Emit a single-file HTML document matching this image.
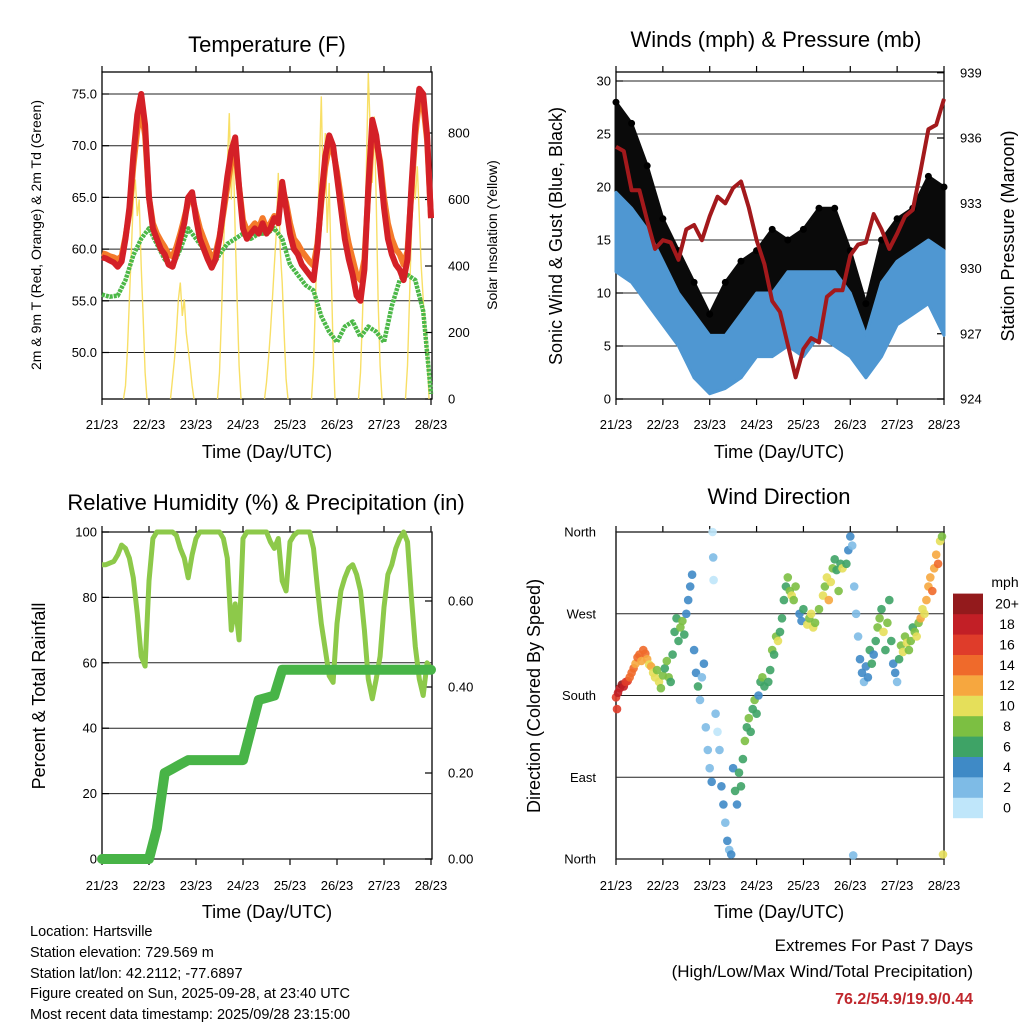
<!DOCTYPE html>
<html><head><meta charset="utf-8"><style>
html,body{margin:0;padding:0;background:#fff;}
svg{display:block;font-family:"Liberation Sans",sans-serif;}
</style></head><body>
<svg id="root" width="1024" height="1024" viewBox="0 0 1024 1024" xmlns="http://www.w3.org/2000/svg">
<text x="267" y="52" font-size="22" text-anchor="middle">Temperature (F)</text>
<text x="776" y="47" font-size="22" text-anchor="middle">Winds (mph) &amp; Pressure (mb)</text>
<text x="266" y="510" font-size="22" text-anchor="middle">Relative Humidity (%) &amp; Precipitation (in)</text>
<text x="779" y="504" font-size="22" text-anchor="middle">Wind Direction</text>
<text transform="translate(41,235) rotate(-90)" font-size="14" text-anchor="middle">2m &amp; 9m T (Red, Orange) &amp; 2m Td (Green)</text>
<text transform="translate(497,235) rotate(-90)" font-size="14" text-anchor="middle">Solar Insolation (Yellow)</text>
<text transform="translate(562,236) rotate(-90)" font-size="18" text-anchor="middle">Sonic Wind &amp; Gust (Blue, Black)</text>
<text transform="translate(1014,236) rotate(-90)" font-size="18" text-anchor="middle">Station Pressure (Maroon)</text>
<text transform="translate(45,696) rotate(-90)" font-size="18" text-anchor="middle">Percent &amp; Total Rainfall</text>
<text transform="translate(540,696) rotate(-90)" font-size="18" text-anchor="middle">Direction (Colored By Speed)</text>
<text x="267" y="458" font-size="18" text-anchor="middle">Time (Day/UTC)</text>
<text x="779" y="458" font-size="18" text-anchor="middle">Time (Day/UTC)</text>
<text x="267" y="918" font-size="18" text-anchor="middle">Time (Day/UTC)</text>
<text x="779" y="918" font-size="18" text-anchor="middle">Time (Day/UTC)</text>
<g font-size="14.5">
<text x="30" y="936">Location: Hartsville</text>
<text x="30" y="957">Station elevation: 729.569 m</text>
<text x="30" y="978">Station lat/lon: 42.2112; -77.6897</text>
<text x="30" y="998">Figure created on Sun, 2025-09-28, at 23:40 UTC</text>
<text x="30" y="1019">Most recent data timestamp: 2025/09/28 23:15:00</text>
</g>
<text x="973" y="951" font-size="17" text-anchor="end">Extremes For Past 7 Days</text>
<text x="973" y="977" font-size="17" text-anchor="end">(High/Low/Max Wind/Total Precipitation)</text>
<text x="973" y="1004" font-size="16" font-weight="bold" fill="#c0272d" text-anchor="end">76.2/54.9/19.9/0.44</text>
</svg>
<script>
// ---------- data ----------
const dayLabels = ["21/23","22/23","23/23","24/23","25/23","26/23","27/23","28/23"];
const tempTicks = [50,55,60,65,70,75];
const solarTicks = [0,200,400,600,800];
const windTicks = [0,5,10,15,20,25,30];
const pressTicks = [924,927,930,933,936,939];
const rhTicks = [0,20,40,60,80,100];
const rainTicks = [0,0.2,0.4,0.6];
const dirTicks = [0,90,180,270,360];
const dirNames = ["North","East","South","West","North"];
const speedBinLabels = ["0","2","4","6","8","10","12","14","16","18","20+"];
// temperature 2m (red), every 2 h
const temp2m = [59.2,59.1,58.9,58.7,58.3,58.8,61,64,69,73,75,72,65,62,61,60,59.5,58.5,58.3,59.5,61,62.5,65,65.5,63,61,60,59,58.2,59,61,64,67,69.5,70.8,66,62,61,61.5,62,61.5,62.5,61.5,62,63,62.5,66.5,64,61.5,60,59.5,58.5,58,57.5,57,60,65,69,71,70,67,64,61,59,57.5,55.5,55,58,66,72.5,71,68,64,61,59.5,58.5,58,57,59,66,72,75.5,75,71,63];
// temperature 9m (orange), every 2 h
const temp9m = [59.6,59.5,59.3,59.2,59,59.3,61.2,63.5,68,71.5,73.5,71,65,62.5,61.5,60.8,60.2,59.5,59.3,60.2,61.5,63,64.5,65,63.5,62,61,60,59.2,59.6,61.2,63.5,66,68.5,69.5,66,62.8,61.8,62,62.5,62,63,62,62.5,63.2,63,66,64.5,62.5,61,60.5,59.8,59.3,58.8,58.4,60.5,64.5,68,70,69.5,67.5,65,62.5,60.5,59,57.5,57,59,65.5,71,70.5,68.5,65,62.5,61,60,59.5,58.5,59.8,65.5,71,74.5,74,70.5,63];
// dew point 2m (green), every 4 h
const dewPoint = [55.6,55.4,55.5,57,59.4,61,62,60.5,59,58.3,60,62,61,60,58.2,59.5,60.5,61,61.5,61,61.5,61.5,62,61,58.5,57.5,56.5,56,53.5,52,51,52.5,53,51.5,52.5,52,51,54.5,57,57.5,57,54,46];
// solar insolation, hourly from hour 11 to 23 of each day
const solarDay1 = [0,40,150,300,450,600,660,550,600,400,250,80,0];
const solarDay2 = [0,60,120,200,300,350,250,300,200,150,100,40,0];
const solarDay3 = [0,80,250,450,600,700,860,600,750,500,300,100,0];
const solarDay4 = [0,50,120,200,300,400,500,680,450,350,200,60,0];
const solarDay5 = [0,100,300,500,700,910,600,800,500,650,400,150,0];
const solarDay6 = [0,80,250,450,700,980,800,650,850,600,300,100,0];
const solarDay7 = [0,100,300,500,730,600,700,550,400,300,200,150,0];
// wind (mph) every 8 h: sonic range and gust range
const windLo = [12,11,9,7,5,2,0.5,1,2,4,4,5,4,6,5,4,2,4,7,8,9,6];
const windHi = [19.5,18,16,13,10,8,6,6,8,10,10,12,12,12,12,10,6,11,13,14,15,14];
const gustLo = [14,15,12,10,7,4,3,4,6,7,9,7,7,9,10,7,4,7,10,10,12,10];
const gustHi = [28,26,22,17,14,11,8,11,13,14,16,15,16,18,18,14,9,15,17,18,21,20];
// pressure every 4 h
const pressure = [935.6,935.4,933.6,933.6,932.2,930.9,931.3,931.2,930.4,931.8,932.0,931.3,932.4,933.3,933.0,933.7,934.0,932.8,931.3,930.2,928.5,928.0,926.5,925.0,926.3,926.8,926.6,928.7,929.0,929.0,930.6,931.1,931.2,932.5,931.8,930.9,931.6,932.4,932.7,934.5,936.4,936.6,937.8];
// relative humidity every 2 h
const relHum = [90,90,90.5,91,93,96,95,92,86,75,62,59,85,98,100,100,100,100,100,99,95,92,86,93,98,100,100,100,100,100,100,98,92,70,78,67,98,100,100,100,100,100,100,97,95,98,85,82,97,99,100,100,100,100,95,83,72,64,56,54,72,82,86,89,90,87,82,70,55,49,55,62,77,87,90,95,98,100,97,80,65,55,50,60,58];
// total rainfall every 4 h
const rainTotal = [0,0,0,0,0,0,0,0.07,0.2,0.21,0.22,0.23,0.23,0.23,0.23,0.23,0.23,0.23,0.23,0.3,0.37,0.375,0.38,0.44,0.44,0.44,0.44,0.44,0.44,0.44,0.44,0.44,0.44,0.44,0.44,0.44,0.44,0.44,0.44,0.44,0.44,0.44,0.44];
// wind direction observations: hour, degrees, speed
const dirHours = [0,0.5,1,2,3,4,5,6,7,8,9,10,11,12,13,14,15,16,17,18,19,20,21,22,23,24,25,26,27,28,29,30,31,32,33,34,35,36,37,38,39,40,41,42,43,44,45,46,47,48,49,49.5,49.8,50,51,52,53,54,55,56,57,58,59,60,61,62,63,64,65,66,67,68,69,70,71,72,73,74,75,76,78,79,80,81,82,83,84,85,86,87,88,89,90,91,92,94,95,96,98,99,100,101,102,104,106,107,108,109,110,111,112,113,114,115,116,118,119,120,121,121.5,122,123,124,125,126,127,128,129,130,131,132,133,134,135,136,137,138,139,140,141,142,143,144,145,146,147,148,149,150,151,152,153,154,155,156,157,158,159,160,161,162,163,164,165,166,167,167.5];
const dirDegrees = [178,165,183,188,192,190,195,196,200,205,210,215,222,225,218,230,226,220,214,212,205,200,208,195,188,202,210,218,200,195,225,250,265,240,255,262,247,270,285,300,313,230,205,190,175,200,215,145,120,100,85,360,332,307,160,140,120,80,60,40,20,10,5,100,75,60,95,80,110,130,145,155,140,165,175,160,180,195,200,190,195,208,230,225,245,240,250,265,285,300,310,295,290,285,300,270,262,275,258,265,270,255,260,275,290,300,310,285,305,320,330,318,295,325,320,325,340,355,345,4,300,270,245,220,205,195,212,200,230,215,225,240,255,265,275,250,230,260,285,240,215,205,195,220,235,228,245,238,230,240,255,250,245,260,265,275,270,285,300,310,295,320,335,325,350,355,5];
const dirSpeeds = [17,16,18,19,20,18,17,16,15,15,14,13,15,14,13,15,14,12,11,12,10,11,9,10,9,8,7,8,9,7,6,7,6,7,8,8,7,4,4,4,4,5,4,6,3,3,4,3,2,3,4,1,2,1,2,1,3,4,4,3,4,3,4,4,6,5,6,7,6,8,7,9,6,7,8,6,4,7,8,6,6,7,8,7,8,10,7,6,6,7,8,9,10,8,9,4,5,6,10,9,11,10,8,9,10,9,10,12,11,8,6,7,8,6,10,6,4,4,3,3,3,2,3,4,4,3,5,4,6,6,5,7,8,9,6,10,7,8,6,6,4,5,3,6,8,10,9,10,8,9,7,8,10,9,12,11,10,12,13,12,14,13,12,15,10,8,11];
const speedColors = ["#bfe6fa","#7ebbe6","#3f8ac6","#3ea366","#7cbf42","#e5df5a","#f6a73f","#ef6a2b","#df3c2a","#c21f26","#931a1c"];

// ---------- helpers ----------
const NS = "http://www.w3.org/2000/svg";
const root = document.getElementById("root");
function mk(tag, attrs, parent) {
  const el = document.createElementNS(NS, tag);
  for (const k in attrs) el.setAttribute(k, attrs[k]);
  (parent || root).appendChild(el);
  return el;
}
const xL = t => 102 + t * 329 / 168;
const xR = t => 616 + t * 328 / 168;
const yT = v => 94 + (75 - v) * 10.34;
const yS = v => 399 - v * 0.3325;
const yW = v => 399 - v * 10.6;
const yP = v => 399 - (v - 924) * 21.75;
const yRH = v => 859 - v * 3.27;
const yRain = v => 859 - v * 430;
const yDir = v => 859 - v * 327 / 360;

function frame(x0, y0, x1, y1, name, xfn, labelY) {
  const g = mk("g", {});
  
  
  const r = mk("rect", {x: x0, y: y0, width: x1 - x0, height: y1 - y0, fill: "none", stroke: "#000", "stroke-width": 1.3}, g);
  
  
  dayLabels.forEach((lab, i) => {
    const x = xfn(i * 24);
    mk("line", {x1: x, y1: y1, x2: x, y2: y1 + 6, stroke: "#000", "stroke-width": 1.2}, g);
    mk("line", {x1: x, y1: y0, x2: x, y2: y0 - 6, stroke: "#000", "stroke-width": 1.2}, g);
    const tx = mk("text", {x: x, y: labelY, "font-size": 13, "text-anchor": "middle"}, g);
    tx.textContent = lab;
    
    
  });
  return g;
}
function hgrid(g, ys, x0, x1) {
  ys.forEach(y => {
    const l = mk("line", {x1: x0, y1: y, x2: x1, y2: y, stroke: "#222", "stroke-width": 1}, g);
    
    
  });
}
function ylabels(g, vals, yfn, axisX, side, fmt) {
  vals.forEach(v => {
    const y = yfn(v);
    mk("line", {x1: axisX, y1: y, x2: side === "left" ? axisX + 7 : axisX - 7, y2: y, stroke: "#000", "stroke-width": 1.2}, g);
    const t = mk("text", {x: side === "left" ? axisX - 5 : axisX + 16, y: y + 4.5, "font-size": 13, "text-anchor": side === "left" ? "end" : "start"}, g);
    t.textContent = fmt(v);
    
    
  });
}
function pathFrom(vals, step, xfn, yfn) {
  return vals.map((v, i) => (i ? "L" : "M") + xfn(i * step).toFixed(1) + "," + yfn(v).toFixed(1)).join("");
}

// ---------- panel 1: temperature ----------
const g1 = frame(102, 72, 432, 399, "temperature", xL, 429);
hgrid(g1, tempTicks.map(yT), 102, 432);
ylabels(g1, tempTicks, yT, 102, "left", v => v.toFixed(1));
ylabels(g1, solarTicks, yS, 432, "right", v => String(v));
[solarDay1, solarDay2, solarDay3, solarDay4, solarDay5, solarDay6, solarDay7].forEach((arr, d) => {
  const p = mk("path", {d: arr.map((v, k) => (k ? "L" : "M") + xL(d * 24 + 11 + k).toFixed(1) + "," + yS(v).toFixed(1)).join(""), fill: "none", stroke: "#f7dc55", "stroke-width": 1.4, opacity: 0.9});
  
  
});
const pDew = mk("path", {d: pathFrom(dewPoint, 4, xL, yT), fill: "none", stroke: "#4cb848", "stroke-width": 4.5, "stroke-dasharray": "3 1", "stroke-linejoin": "round"});


const p9 = mk("path", {d: pathFrom(temp9m, 2, xL, yT), fill: "none", stroke: "#f47a2a", "stroke-width": 6, "stroke-linejoin": "round"});


const p2 = mk("path", {d: pathFrom(temp2m, 2, xL, yT), fill: "none", stroke: "#d42027", "stroke-width": 6, "stroke-linejoin": "round"});



// ---------- panel 2: winds & pressure ----------
const g2 = frame(616, 72, 944, 399, "winds", xR, 429);
hgrid(g2, windTicks.map(yW), 616, 944);
ylabels(g2, windTicks, yW, 616, "left", v => String(v));
ylabels(g2, pressTicks, yP, 944, "right", v => String(v));
function band(lo, hi, step, color, name) {
  let d = lo.map((v, i) => (i ? "L" : "M") + xR(i * step).toFixed(1) + "," + yW(v).toFixed(1)).join("");
  for (let i = hi.length - 1; i >= 0; i--) d += "L" + xR(i * step).toFixed(1) + "," + yW(hi[i]).toFixed(1);
  const p = mk("path", {d: d + "Z", fill: color, stroke: color, "stroke-width": 3, "stroke-linejoin": "round"});
  
  
}
band(gustLo, gustHi, 8, "#0a0a0a", "gust-band");
gustHi.forEach((v, i) => {
  const c = mk("circle", {cx: xR(i * 8).toFixed(1), cy: yW(v).toFixed(1), r: 3.5, fill: "#000"});
  
  
});
band(windLo, windHi, 8, "#4f97d2", "sonic-wind-band");
const pp = mk("path", {d: pathFrom(pressure, 4, xR, yP), fill: "none", stroke: "#a3191c", "stroke-width": 4, "stroke-linejoin": "round"});



// ---------- panel 3: RH & precipitation ----------
const g3 = frame(102, 532, 432, 859, "humidity", xL, 890);
hgrid(g3, rhTicks.map(yRH), 102, 432);
ylabels(g3, rhTicks, yRH, 102, "left", v => String(v));
ylabels(g3, rainTicks, yRain, 432, "right", v => v.toFixed(2));
const prh = mk("path", {d: pathFrom(relHum, 2, xL, yRH), fill: "none", stroke: "#8dc94a", "stroke-width": 5, "stroke-linejoin": "round"});


const prn = mk("path", {d: pathFrom(rainTotal, 4, xL, yRain), fill: "none", stroke: "#48b447", "stroke-width": 10, "stroke-linejoin": "round", "stroke-linecap": "round"});



// ---------- panel 4: wind direction ----------
const g4 = frame(616, 532, 944, 859, "direction", xR, 890);
hgrid(g4, dirTicks.map(yDir), 616, 944);
dirTicks.forEach((v, i) => {
  const t = mk("text", {x: 596, y: yDir(v) + 4.5, "font-size": 13, "text-anchor": "end"}, g4);
  t.textContent = dirNames[i];
  
  
});
dirHours.forEach((h, i) => {
  const bin = Math.min(10, Math.floor(dirSpeeds[i] / 2));
  const c = mk("circle", {cx: xR(h).toFixed(1), cy: yDir(dirDegrees[i]).toFixed(1), r: 4.3, fill: speedColors[bin], opacity: 0.9});
  
  
});
// colorbar
const cb = mk("g", {});


const mph = mk("text", {x: 1005, y: 587, "font-size": 14, "text-anchor": "middle"}, cb);
mph.textContent = "mph";


speedBinLabels.forEach((lab, i) => {
  const y = 818 - (i + 1) * 20.4;
  const r = mk("rect", {x: 953, y: y.toFixed(1), width: 30, height: 20.6, fill: speedColors[i]}, cb);
  
  
  const t = mk("text", {x: 1007, y: (y + 15).toFixed(1), "font-size": 14, "text-anchor": "middle"}, cb);
  t.textContent = lab;
  
  
});
</script>
</body></html>
